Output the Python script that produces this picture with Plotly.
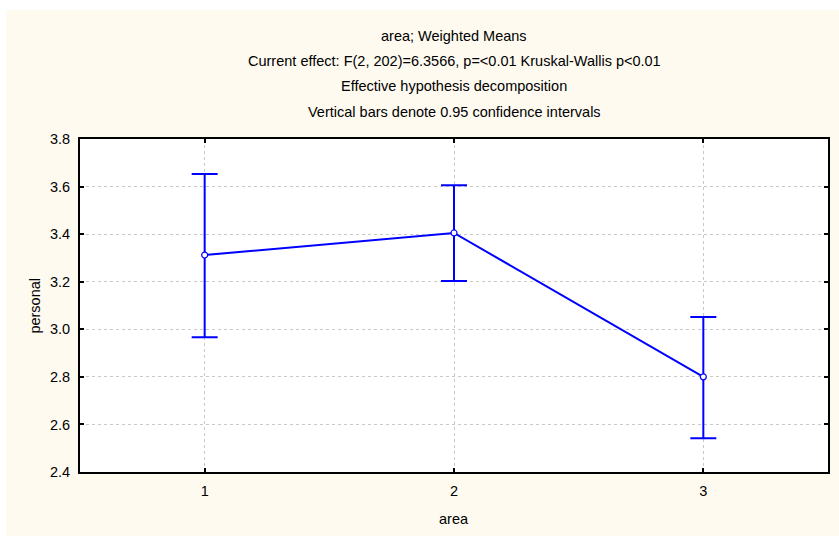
import plotly.graph_objects as go

categories = ["1", "2", "3"]
means = [3.312, 3.405, 2.800]
upper = [3.653, 3.606, 3.052]
lower = [2.967, 3.203, 2.542]
title_lines = [
    "area; Weighted Means",
    "Current effect: F(2, 202)=6.3566, p=<0.01 Kruskal-Wallis p<0.01",
    "Effective hypothesis decomposition",
    "Vertical bars denote 0.95 confidence intervals",
]
y_ticks = [2.4, 2.6, 2.8, 3.0, 3.2, 3.4, 3.6, 3.8]

err_plus = [u - m for u, m in zip(upper, means)]
err_minus = [m - l for m, l in zip(means, lower)]

BLUE = "#0000FF"
FONT = "Liberation Sans, Arial, sans-serif"
FS = 14.5

fig = go.Figure()
fig.add_trace(go.Scatter(
    x=categories, y=means, mode="lines+markers",
    line=dict(color=BLUE, width=2),
    marker=dict(size=6, color="white", line=dict(color=BLUE, width=1.2)),
    error_y=dict(type="data", array=err_plus, arrayminus=err_minus,
                 color=BLUE, thickness=2, width=13),
    showlegend=False,
))

W, H = 839, 536
L, R, T, B = 80, 9, 139, 64
pw, ph = W - L - R, H - T - B

def px_x(x):
    return (x - L) / pw

def px_y(y):
    return (H - B - y) / ph

shapes = [
    dict(type="rect", xref="paper", yref="paper", x0=px_x(6), x1=px_x(W + 2),
         y0=px_y(H + 2), y1=px_y(10), fillcolor="#FEFAF0", line_width=0, layer="below"),
    dict(type="rect", xref="paper", yref="paper", x0=0, x1=1, y0=0, y1=1,
         fillcolor="white", line_width=0, layer="below"),
]

annotations = []
for yy, txt in zip([36, 61, 86, 112], title_lines):
    annotations.append(dict(text=txt, xref="paper", yref="paper", x=px_x(455), y=px_y(yy),
                            xanchor="center", yanchor="middle", showarrow=False,
                            font=dict(family=FONT, size=FS, color="black")))
annotations.append(dict(text="personal", xref="paper", yref="paper", x=px_x(34), y=0.5,
                        textangle=-90, xanchor="center", yanchor="middle", showarrow=False,
                        font=dict(family=FONT, size=FS, color="black")))
annotations.append(dict(text="area", xref="paper", yref="paper", x=0.5, y=px_y(519),
                        xanchor="center", yanchor="middle", showarrow=False,
                        font=dict(family=FONT, size=FS, color="black")))

axis_common = dict(
    showline=True, linecolor="black", linewidth=2, mirror="ticks",
    ticks="inside", ticklen=4, tickwidth=2, tickcolor="black",
    showgrid=True, gridcolor="#C8C8C8", griddash="dot", gridwidth=1,
    zeroline=False, tickfont=dict(family=FONT, size=FS, color="black"),
)

fig.update_layout(
    width=W, height=H,
    margin=dict(l=L, r=R, t=T, b=B),
    paper_bgcolor="white", plot_bgcolor="white",
    font=dict(family=FONT, size=FS, color="black"),
    shapes=shapes, annotations=annotations,
    xaxis=dict(type="category", range=[-0.5, 2.5], ticklabelstandoff=5, **axis_common),
    yaxis=dict(range=[2.4, 3.8], tickvals=y_ticks, tickformat=".1f",
               ticklabelstandoff=5, **axis_common),
)

fig.write_html("out.html")
